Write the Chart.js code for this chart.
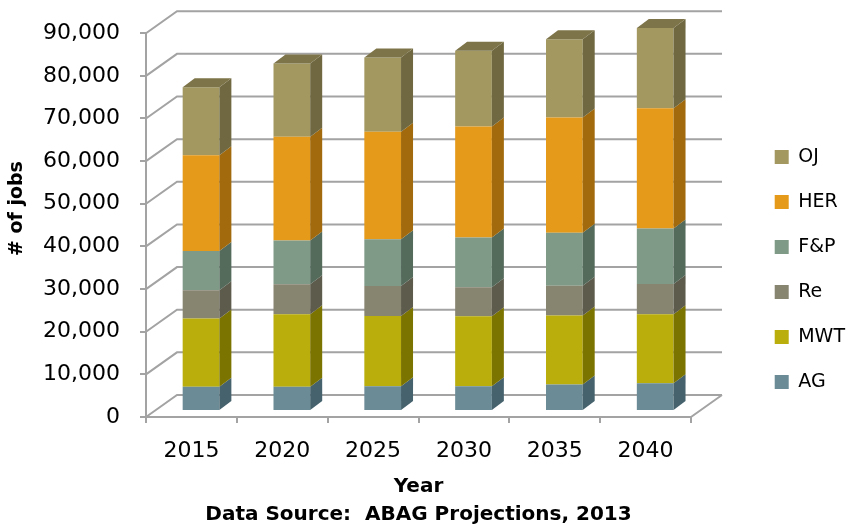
<!DOCTYPE html>
<html lang="en">
<head>
<meta charset="UTF-8">
<title>Jobs by sector</title>
<script src="https://cdn.jsdelivr.net/npm/chart.js@4"></script>
<style>
  html, body { margin: 0; padding: 0; background: #fff; }
</style>
</head>
<body>
<canvas id="jobsChart" width="855" height="529"></canvas>
<script>
// values
const years   = ['2015', '2020', '2025', '2030', '2035', '2040'];
const agJobs  = [5700, 5700, 5800, 5800, 6200, 6500];
const mwtJobs = [16000, 17000, 16500, 16400, 16200, 16200];
const reJobs  = [6600, 7000, 7000, 6800, 7000, 7100];
const fpJobs  = [9200, 10300, 11000, 11700, 12400, 13000];
const herJobs = [22500, 24300, 25200, 26000, 27000, 28200];
const ojJobs  = [15900, 17200, 17400, 17800, 18400, 18800];

const FONT = 'DejaVu Sans';
const GRID = '#a3a3a3';

// fake 3D: back wall offset, bar offset from front axis, bar depth
const WALL_DX = 31, WALL_DY = -22;
const BAR_DX = 9.6, BAR_DY = -6;
const SIDE_DX = 12, SIDE_DY = -9;

function series(label, data, color, side, top) {
    return {
        label: label,
        data: data,
        backgroundColor: color,
        sideColor: side,
        topColor: top,
        borderWidth: 0,
        barPercentage: 0.404,
        categoryPercentage: 1,
        clip: false
    };
}

const depth3d = {
    id: 'depth3d',
    beforeDatasetsDraw(chart) {
        const { ctx, scales: { x, y } } = chart;
        ctx.save();
        ctx.strokeStyle = GRID;
        ctx.lineWidth = 2;
        ctx.beginPath();
        y.ticks.forEach(t => {
            const py = y.getPixelForValue(t.value);
            ctx.moveTo(x.left, py);
            ctx.lineTo(x.left + WALL_DX, py + WALL_DY);
            ctx.lineTo(x.right + WALL_DX, py + WALL_DY);
        });
        // right edge of the floor
        const y0 = y.getPixelForValue(0);
        ctx.moveTo(x.right, y0);
        ctx.lineTo(x.right + WALL_DX, y0 + WALL_DY);
        ctx.stroke();
        ctx.restore();

        // bars stand a bit behind the front axis
        ctx.save();
        ctx.translate(BAR_DX, BAR_DY);
    },
    afterDatasetsDraw(chart) {
        const ctx = chart.ctx;
        const last = chart.data.datasets.length - 1;
        chart.data.datasets.forEach((ds, i) => {
            chart.getDatasetMeta(i).data.forEach(bar => {
                const p = bar.getProps(['x', 'y', 'base', 'width'], true);
                const l = p.x - p.width / 2, r = p.x + p.width / 2;
                const top = Math.min(p.y, p.base), bottom = Math.max(p.y, p.base);

                ctx.fillStyle = ds.sideColor;
                ctx.beginPath();
                ctx.moveTo(r, bottom);
                ctx.lineTo(r, top);
                ctx.lineTo(r + SIDE_DX, top + SIDE_DY);
                ctx.lineTo(r + SIDE_DX, bottom + SIDE_DY);
                ctx.closePath();
                ctx.fill();

                if (i === last) {
                    ctx.fillStyle = ds.topColor;
                    ctx.beginPath();
                    ctx.moveTo(l, top);
                    ctx.lineTo(r, top);
                    ctx.lineTo(r + SIDE_DX, top + SIDE_DY);
                    ctx.lineTo(l + SIDE_DX, top + SIDE_DY);
                    ctx.closePath();
                    ctx.fill();
                }
            });
        });
        ctx.restore();
    }
};

const ctx = document.getElementById('jobsChart').getContext('2d');
const chart = new Chart(ctx, {
    type: 'bar',
    data: {
        labels: years,
        datasets: [
            series('AG',  agJobs,  '#6b8b96', '#45626d', '#56717b'),
            series('MWT', mwtJobs, '#b9ae0b', '#7c7400', '#958c05'),
            series('Re',  reJobs,  '#878470', '#5d5b4b', '#6e6b5a'),
            series('F&P', fpJobs,  '#7f9a87', '#546a5b', '#67806e'),
            series('HER', herJobs, '#e59a19', '#a26a0c', '#bd7e12'),
            series('OJ',  ojJobs,  '#a39860', '#6f6840', '#7d7449')
        ]
    },
    options: {
        responsive: false,
        animation: false,
        layout: { padding: { top: 10, right: 0, bottom: 0, left: 0 } },
        plugins: {
            // empty spacer so the legend can center on the whole height
            title: {
                display: true,
                text: '',
                fullSize: false,
                font: { size: 10, lineHeight: 1 },
                padding: { top: 0, bottom: 11.7 }
            },
            legend: {
                position: 'right',
                reverse: true,
                labels: {
                    boxWidth: 14,
                    boxHeight: 14,
                    padding: 26,
                    color: '#000',
                    font: { family: FONT, size: 19 }
                }
            },
            tooltip: { enabled: false }
        },
        scales: {
            x: {
                stacked: true,
                grid: { display: true, drawOnChartArea: false, offset: true, tickLength: 6, color: GRID, lineWidth: 2 },
                border: { color: GRID, width: 2 },
                ticks: { color: '#000', padding: 15, font: { family: FONT, size: 22 } },
                title: {
                    display: true,
                    text: ['Year', 'Data Source:  ABAG Projections, 2013'],
                    color: '#000',
                    padding: 0,
                    font: { family: FONT, size: 20, weight: 'bold', lineHeight: 1.4 }
                },
                afterFit: s => { s.height = 112; }
            },
            y: {
                stacked: true,
                min: 0,
                max: 90000,
                grid: { display: true, drawOnChartArea: false, tickLength: 6, color: GRID, lineWidth: 2 },
                border: { color: GRID, width: 2 },
                ticks: {
                    stepSize: 10000,
                    padding: 20,
                    color: '#000',
                    font: { family: FONT, size: 22 },
                    callback: v => v.toLocaleString('en-US')
                },
                title: {
                    display: true,
                    // leading spaces lift the rotated title a little, as in the original
                    text: '     # of jobs',
                    color: '#000',
                    padding: { top: 6, bottom: 0 },
                    font: { family: FONT, size: 19, weight: 'bold' }
                },
                afterFit: s => { s.width = 146; }
            },
            // empty axis that keeps room for the back wall between plot and legend
            pad: {
                type: 'linear',
                position: 'right',
                grid: { display: false },
                border: { display: false },
                ticks: { display: false },
                afterFit: s => { s.width = 855 - s.chart.legend.width - 691; }
            }
        }
    },
    plugins: [depth3d]
});
</script>
</body>
</html>
